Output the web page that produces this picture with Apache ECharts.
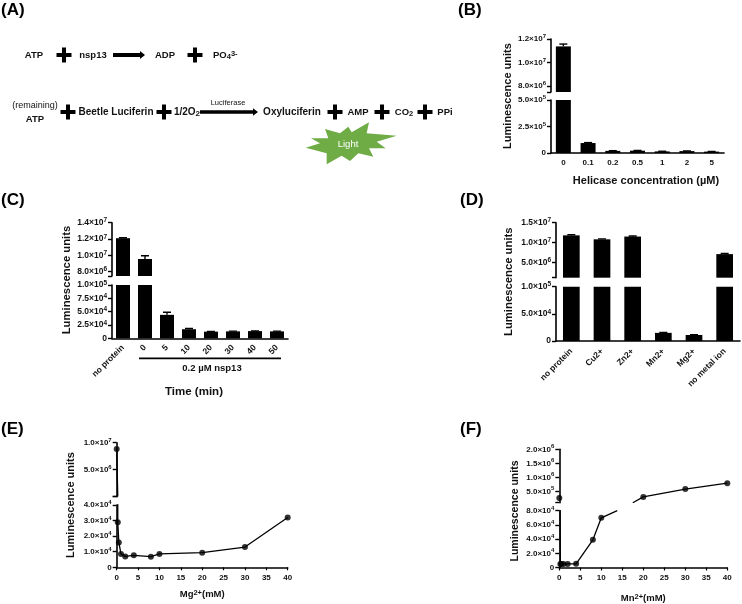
<!DOCTYPE html>
<html><head><meta charset="utf-8">
<style>html,body{margin:0;padding:0;background:#fff}#c{width:742px;height:604px}</style>
<script src="https://cdn.jsdelivr.net/npm/echarts@6/dist/echarts.min.js"></script>
</head><body><div id="c"></div>
<script>
// ---- data ----
const bCategories = ['0','0.1','0.2','0.5','1','2','5'];
const bValues = [11370000,94000,20000,22000,15000,18000,13000];
const bErrors = [200000,4000,2000,2000,1500,1500,1500];
const bUpperTicks = [8000000,10000000,12000000];
const bUpperLabels = ['8.0×10^6','1.0×10^7','1.2×10^7'];
const bLowerTicks = [0,250000,500000];
const bLowerLabels = ['0','2.5×10^5','5.0×10^5'];

const cCategories = ['no protein','0','5','10','20','30','40','50'];
const cValues = [12100000,9550000,44000,17000,12500,13000,13500,13000];
const cErrors = [60000,400000,5000,1500,500,500,500,500];
const cUpperTicks = [8000000,10000000,12000000,14000000];
const cUpperLabels = ['8.0×10^6','1.0×10^7','1.2×10^7','1.4×10^7'];
const cLowerTicks = [0,25000,50000,75000,100000];
const cLowerLabels = ['0','2.5×10^4','5.0×10^4','7.5×10^4','1.0×10^5'];

const dCategories = ['no protein','Cu2+','Zn2+','Mn2+','Mg2+','no metal ion'];
const dValues = [11800000,10800000,11500000,15000,11000,7060000];
const dErrors = [150000,100000,150000,800,500,150000];
const dUpperTicks = [5000000,10000000,15000000];
const dUpperLabels = ['5.0×10^6','1.0×10^7','1.5×10^7'];
const dLowerTicks = [0,50000,100000];
const dLowerLabels = ['0','5.0×10^4','1.0×10^5'];

const eX = [0,0.25,0.5,1,2,4,8,10,20,30,40];
const eY = [8840000,28900,16000,8600,7000,7700,6800,8600,9400,13000,32000];
const eUpperTicks = [0,5000000,10000000];
const eUpperLabels = ['','5.0×10^6','1.0×10^7'];
const eLowerTicks = [0,10000,20000,30000,40000];
const eLowerLabels = ['0','1.0×10^4','2.0×10^4','3.0×10^4','4.0×10^4'];

const fLowerX = [0,0.25,0.5,1,2,4,8,10];
const fLowerY = [260000,5000,5000,4800,5000,5200,39000,70000];
const fLowerEndPoint = [13.8,80000];
const fUpperX = [0,20,30,40];
const fUpperY = [260000,300000,580000,790000];
const fUpperStartPoint = [17.5,93000];
const fUpperTicks = [500000,1000000,1500000,2000000];
const fUpperLabels = ['5.0×10^5','1.0×10^6','1.5×10^6','2.0×10^6'];
const fLowerTicks = [0,20000,40000,60000,80000];
const fLowerLabels = ['0','2.0×10^4','4.0×10^4','6.0×10^4','8.0×10^4'];

const yTitle = 'Luminescence units';
const panelLetters = ['(A)','(B)','(C)','(D)','(E)','(F)'];

// ---- builders ----
const FONT = '"Liberation Sans", Arial, sans-serif';
const option = {backgroundColor:'#fff',animation:false,grid:[],xAxis:[],yAxis:[],series:[],graphic:[]};
const richFor=(fs,colorKey)=>({
  m:{fontFamily:FONT,fontWeight:'bold',fontSize:fs,lineHeight:11,verticalAlign:'middle',[colorKey]:'#111'},
  s:{fontFamily:FONT,fontWeight:'bold',fontSize:fs-2,lineHeight:4,verticalAlign:'top',[colorKey]:'#111'},
  d:{fontFamily:FONT,fontWeight:'bold',fontSize:fs-2,lineHeight:4,verticalAlign:'bottom',[colorKey]:'#111'}});

function yAx(gridIndex,min,max,ticks,labels,fs,extraTick){
  const tv = extraTick!==undefined ? ticks.concat([extraTick]) : ticks;
  return {type:'value',gridIndex,min,max,splitLine:{show:false},
    axisLine:{show:true,onZero:false,lineStyle:{color:'#000',width:1.6}},
    axisTick:{show:true,inside:false,length:4,customValues:tv,lineStyle:{color:'#000',width:1.4}},
    axisLabel:{show:true,customValues:ticks,margin:5,fontFamily:FONT,fontWeight:'bold',fontSize:fs,color:'#111',
      rich:richFor(fs,'color'),
      formatter:v=>{const i=ticks.indexOf(v);if(i<0||!labels[i])return '';
        const q=labels[i].split('^');return q.length>1?'{m|'+q[0]+'}{s|'+q[1]+'}':'{m|'+q[0]+'}';}}};
}
function errSeries(g,vals,errs,lo,hi){
  return {type:'custom',xAxisIndex:g,yAxisIndex:g,clip:true,silent:true,
    data:vals.map((v,i)=>[i,v,errs[i]]).filter(d=>d[1]>=lo&&d[1]<=hi),
    encode:{x:0,y:1},
    renderItem:(p,api)=>{
      const a=api.coord([api.value(0),api.value(1)]),b=api.coord([api.value(0),api.value(1)+api.value(2)]);
      const st={stroke:'#000',lineWidth:1.4};
      return {type:'group',children:[
        {type:'line',shape:{x1:a[0],y1:a[1],x2:b[0],y2:b[1]},style:st},
        {type:'line',shape:{x1:b[0]-4,y1:b[1],x2:b[0]+4,y2:b[1]},style:st}]};
    }};
}
function barPanel(p){
  const g0=option.grid.length,g1=g0+1;
  option.grid.push({left:p.left,width:p.width,top:p.yTop,height:p.yBreakUp-p.yTop,containLabel:false},
                   {left:p.left,width:p.width,top:p.yBreakLow,height:p.yZero-p.yBreakLow,containLabel:false});
  option.xAxis.push({type:'category',gridIndex:g0,data:p.cats,show:false},
   {type:'category',gridIndex:g1,data:p.cats,
    axisLine:{onZero:false,lineStyle:{color:'#000',width:1.6}},
    axisTick:{alignWithLabel:true,length:3,lineStyle:{color:'#000',width:1.2}},
    axisLabel:{interval:0,rotate:p.rotate||0,margin:p.catMargin||6,fontFamily:FONT,fontWeight:'bold',fontSize:p.fs,color:'#111'}});
  option.yAxis.push(yAx(g0,p.upMin,p.upMax,p.upTicks,p.upLabels,p.fs,p.upMin),
                    yAx(g1,0,p.lowMax,p.lowTicks,p.lowLabels,p.fs));
  [g0,g1].forEach(g=>option.series.push({type:'bar',xAxisIndex:g,yAxisIndex:g,data:p.vals,barWidth:p.barW,clip:true,itemStyle:{color:'#000'},silent:true}));
  option.series.push(errSeries(g0,p.vals,p.errs,p.upMin,p.upMax),errSeries(g1,p.vals,p.errs,0,p.lowMax));
}
function linePanel(p){
  const g0=option.grid.length,g1=g0+1;
  option.grid.push({left:p.left,width:p.width,top:p.yTop,height:p.yBreakUp-p.yTop,containLabel:false},
                   {left:p.left,width:p.width,top:p.yBreakLow,height:p.yZero-p.yBreakLow,containLabel:false});
  const xbase={type:'value',min:0,max:40,interval:5,splitLine:{show:false}};
  option.xAxis.push(Object.assign({},xbase,{gridIndex:g0,show:false}),
    Object.assign({},xbase,{gridIndex:g1,name:p.xName,nameLocation:'middle',nameGap:p.nameGap,
      nameTextStyle:{rich:richFor(9.5,'color')},
      axisLine:{onZero:false,lineStyle:{color:'#000',width:1.6}},
      axisTick:{length:3,lineStyle:{color:'#000',width:1.2}},
      axisLabel:{margin:6,fontFamily:FONT,fontWeight:'bold',fontSize:8,color:'#111'}}));
  option.yAxis.push(yAx(g0,p.upMin,p.upMax,p.upTicks,p.upLabels,8,p.upMin),
                    yAx(g1,0,p.lowMax,p.lowTicks,p.lowLabels,8));
  const ln=(g,data)=>({type:'line',xAxisIndex:g,yAxisIndex:g,data,showSymbol:false,symbol:'none',clip:true,silent:true,lineStyle:{color:'#000',width:1.3}});
  const pt=(g,data)=>({type:'scatter',xAxisIndex:g,yAxisIndex:g,data,symbolSize:6,clip:true,silent:true,itemStyle:{color:'#000'}});
  option.series.push(ln(g0,p.upLine),ln(g1,p.lowLine),pt(g0,p.upPts),pt(g1,p.lowPts));
}
const zip=(a,b)=>a.map((v,i)=>[v,b[i]]);

barPanel({left:551,width:173,yTop:39,yBreakUp:92,yBreakLow:100,yZero:153,cats:bCategories,vals:bValues,errs:bErrors,
  upMin:7490000,upMax:12000000,upTicks:bUpperTicks,upLabels:bUpperLabels,lowMax:500000,lowTicks:bLowerTicks,lowLabels:bLowerLabels,
  barW:15,fs:8,catMargin:6});
barPanel({left:112,width:176,yTop:222.7,yBreakUp:276,yBreakLow:285,yZero:338.3,cats:cCategories,vals:cValues,errs:cErrors,
  upMin:7470000,upMax:14000000,upTicks:cUpperTicks,upLabels:cUpperLabels,lowMax:100000,lowTicks:cLowerTicks,lowLabels:cLowerLabels,
  barW:14,fs:8.5,rotate:45,catMargin:8});
barPanel({left:556,width:184,yTop:222.7,yBreakUp:277.7,yBreakLow:286.7,yZero:341,cats:dCategories,vals:dValues,errs:dErrors,
  upMin:1100000,upMax:15000000,upTicks:dUpperTicks,upLabels:dUpperLabels,lowMax:100000,lowTicks:dLowerTicks,lowLabels:dLowerLabels,
  barW:16.7,fs:8.5,rotate:45,catMargin:9});
const eAll=zip(eX,eY);
linePanel({left:116.7,width:171,yTop:442.7,yBreakUp:496.7,yBreakLow:505,yZero:567.3,
  upMin:0,upMax:10000000,upTicks:eUpperTicks,upLabels:eUpperLabels,lowMax:40000,lowTicks:eLowerTicks,lowLabels:eLowerLabels,
  upLine:eAll.slice(0,2),lowLine:eAll,upPts:eAll.slice(0,1),lowPts:eAll.slice(1),xName:'{m|Mg}{s|2+}{m|(mM)}',nameGap:22});
linePanel({left:559.3,width:168,yTop:449.3,yBreakUp:502.7,yBreakLow:510.7,yZero:571.3,
  upMin:93000,upMax:2000000,upTicks:fUpperTicks,upLabels:fUpperLabels,lowMax:80000,lowTicks:fLowerTicks,lowLabels:fLowerLabels,
  upLine:[fUpperStartPoint].concat(zip(fUpperX,fUpperY).slice(1)),
  lowLine:zip(fLowerX,fLowerY).concat([fLowerEndPoint]),
  upPts:zip(fUpperX,fUpperY),lowPts:zip(fLowerX,fLowerY).slice(1),xName:'{m|Mn}{s|2+}{m|(mM)}',nameGap:25});

// ---- text and diagram overlays ----
const G=option.graphic;
function txt(s,x,y,o){o=o||{};const size=o.size||9.5;const st={text:s,fill:o.fill||'#111',
  font:(o.weight||'bold')+' '+size+'px '+FONT,align:o.align||'center',verticalAlign:'middle'};
  if(o.rich) st.rich=richFor(size,'fill');
  G.push({type:'text',x,y,rotation:o.rot||0,silent:true,z:10,style:st});}
function plus(cx,cy){G.push({type:'rect',silent:true,shape:{x:cx-7.5,y:cy-2,width:15,height:4},style:{fill:'#000'}},
  {type:'rect',silent:true,shape:{x:cx-2,y:cy-7.5,width:4,height:15},style:{fill:'#000'}});}
function arrow(x1,x2,y,t){G.push({type:'polygon',silent:true,shape:{points:[[x1,y-t/2],[x2-5,y-t/2],[x2-5,y-t/2-2],[x2,y],[x2-5,y+t/2+2],[x2-5,y+t/2],[x1,y+t/2]]},style:{fill:'#000'}});}

[[1,10],[458,10],[1,200],[460,200],[1,429],[460,429]].forEach((p,i)=>txt(panelLetters[i],p[0],p[1],{size:17,align:'left',fill:'#000'}));
txt(yTitle,507.7,96,{rot:Math.PI/2,size:11});
txt(yTitle,66.7,280,{rot:Math.PI/2,size:11.3});
txt(yTitle,508.7,281.7,{rot:Math.PI/2,size:11.3});
txt(yTitle,70.7,505,{rot:Math.PI/2,size:11});
txt(yTitle,515,511,{rot:Math.PI/2,size:10.5});
txt('Helicase concentration (µM)',646,181,{size:11});
txt('0.2 µM nsp13',212,368,{size:9.5});
txt('Time (min)',194,392,{size:11.5});
G.push({type:'rect',silent:true,shape:{x:139,y:357.5,width:142,height:1.8},style:{fill:'#000'}});

txt('ATP',34,55); plus(64,55); txt('nsp13',93,55); arrow(113,145,55,4); txt('ADP',165,55); plus(195,55);
txt('{m|PO}{d|4}{s|3-}',213,55,{align:'left',rich:true});
txt('(remaining)',35,106,{weight:'normal',size:9}); txt('ATP',35,119);
plus(68,112); txt('Beetle Luciferin',116,112,{size:10}); plus(164,112);
txt('{m|1/2O}{d|2}',187,112,{size:10,rich:true});
txt('Luciferase',228,103,{weight:'normal',size:7.5}); arrow(200,258,112,3.5);
txt('Oxyluciferin',292,112,{size:10}); plus(335,112); txt('AMP',358,112); plus(382,112);
txt('{m|CO}{d|2}',404,112,{rich:true}); plus(425,112); txt('PPi',445,112);
const starZoom=[[32,98],[75,85],[48,70],[100,70],[90,42],[135,55],[160,35],[170,52],[222,22],[215,55],[305,62],[245,80],[272,100],[222,100],[235,125],[190,115],[165,138],[140,122],[95,148],[95,115]];
G.push({type:'polygon',silent:true,shape:{points:starZoom.map(p=>[295+p[0]/3,115+p[1]/3])},style:{fill:'#6fac46'}});
txt('Light',348,144,{weight:'normal',size:9.5,fill:'#fff'});

const chart=echarts.init(document.getElementById('c'),null,{renderer:'canvas'});
chart.setOption(option);
</script></body></html>
